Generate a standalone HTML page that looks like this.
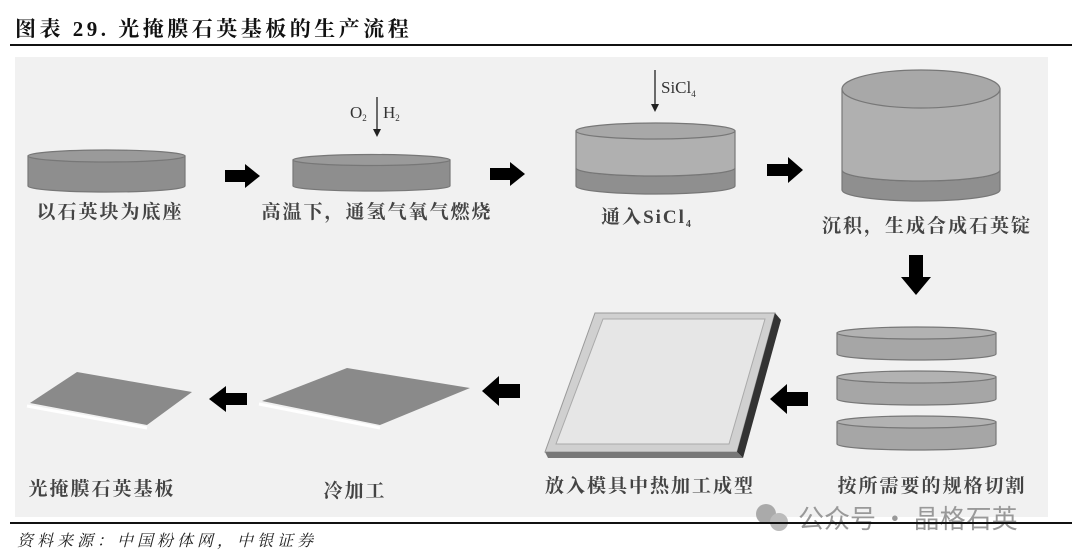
<!DOCTYPE html>
<html><head><meta charset="utf-8"><style>
body{margin:0;background:#fff;width:1080px;height:559px;overflow:hidden}
svg{display:block}
</style></head><body>
<svg width="1080" height="559" viewBox="0 0 1080 559" xmlns="http://www.w3.org/2000/svg" font-family="Liberation Serif, Noto Serif CJK SC, serif">
<text x="15" y="36" font-size="21" font-weight="bold" fill="#111" letter-spacing="3.5">图表 29. 光掩膜石英基板的生产流程</text>
<rect x="10" y="44" width="1062" height="2" fill="#111"/>
<rect x="15" y="57" width="1033" height="460" fill="#f1f1f1"/>
<defs>
<marker id="ah" markerWidth="8" markerHeight="8" refX="4" refY="4" orient="auto" markerUnits="userSpaceOnUse"><path d="M0,0 L8,4 L0,8z" fill="#222"/></marker>
</defs>
<g stroke="#777" stroke-width="1.2">
<path d="M28,156 L28,186 A78,6 0 0 0 185,186 L185,156z" fill="#8e8e8e"/>
<ellipse cx="106.5" cy="156" rx="78.5" ry="6" fill="#9a9a9a"/>
<path d="M293,160 L293,186 A78,5 0 0 0 450,186 L450,160z" fill="#8e8e8e"/>
<ellipse cx="371.5" cy="160" rx="78.5" ry="5.5" fill="#9a9a9a"/>
<path d="M576,168 L576,186 A79.5,8 0 0 0 735,186 L735,168 A79.5,8 0 0 1 576,168z" fill="#8f8f8f"/>
<path d="M576,131 L576,168 A79.5,8 0 0 0 735,168 L735,131z" fill="#b0b0b0"/>
<ellipse cx="655.5" cy="131" rx="79.5" ry="8" fill="#a8a8a8"/>
<path d="M842,170 L842,190 A79,11 0 0 0 1000,190 L1000,170 A79,11 0 0 1 842,170z" fill="#8f8f8f"/>
<path d="M842,89 L842,170 A79,11 0 0 0 1000,170 L1000,89z" fill="#b0b0b0"/>
<ellipse cx="921" cy="89" rx="79" ry="19" fill="#a8a8a8"/>
<path d="M837,333 L837,354 A79.5,6 0 0 0 996,354 L996,333z" fill="#a6a6a6"/>
<ellipse cx="916.5" cy="333" rx="79.5" ry="6" fill="#b2b2b2"/>
<path d="M837,377 L837,399 A79.5,6 0 0 0 996,399 L996,377z" fill="#a6a6a6"/>
<ellipse cx="916.5" cy="377" rx="79.5" ry="6" fill="#b2b2b2"/>
<path d="M837,422 L837,444 A79.5,6 0 0 0 996,444 L996,422z" fill="#a6a6a6"/>
<ellipse cx="916.5" cy="422" rx="79.5" ry="6" fill="#b2b2b2"/>
</g>
<polygon points="595,313 775,313 737,452 545,452" fill="#d0d0d0" stroke="#999"/>
<polygon points="775,313 781,320 743,458 737,452" fill="#333"/>
<polygon points="545,452 737,452 743,458 548,458" fill="#777"/>
<polygon points="603,319 765,319 729,444 556,444" fill="#e6e6e6" stroke="#aaa"/>
<polygon points="77,372 192,392 147,425 30,403" fill="#8a8a8a"/>
<polyline points="27,406 147,428" stroke="#fff" stroke-width="3" fill="none"/>
<polygon points="347,368 470,388 380,425 262,401" fill="#8a8a8a"/>
<polyline points="259,404 380,428" stroke="#fff" stroke-width="3" fill="none"/>
<g fill="#000">
<path d="M225,170 h20 v-6 l15,12 l-15,12 v-6 h-20z"/>
<path d="M490,168 h20 v-6 l15,12 l-15,12 v-6 h-20z"/>
<path d="M767,164 h21 v-7 l15,13 l-15,13 v-7 h-21z"/>
<path d="M909,255 h14 v22 h8 l-15,18 l-15,-18 h8z"/>
<path d="M808,392 h-21 v-8 l-17,15 l17,15 v-8 h21z"/>
<path d="M520,384 h-21 v-8 l-17,15 l17,15 v-8 h21z"/>
<path d="M247,393 h-21 v-7 l-17,13 l17,13 v-7 h21z"/>
</g>
<line x1="377" y1="97" x2="377" y2="133" stroke="#222" stroke-width="1.3" marker-end="url(#ah)"/>
<line x1="655" y1="70" x2="655" y2="108" stroke="#222" stroke-width="1.3" marker-end="url(#ah)"/>
<g fill="#333" font-size="17">
<text x="350" y="118">O<tspan font-size="9" dy="3">2</tspan></text>
<text x="383" y="118">H<tspan font-size="9" dy="3">2</tspan></text>
<text x="661" y="93">SiCl<tspan font-size="9" dy="4">4</tspan></text>
</g>
<g fill="#444" font-size="19" font-weight="bold" text-anchor="middle" letter-spacing="2" font-family="Liberation Serif, Noto Serif CJK SC, serif">
<text x="110" y="218">以石英块为底座</text>
<text x="377" y="218">高温下，通氢气氧气燃烧</text>
<text x="647" y="223">通入SiCl<tspan font-size="10" dy="4">4</tspan></text>
<text x="927" y="232">沉积，生成合成石英锭</text>
<text x="932" y="492">按所需要的规格切割</text>
<text x="650" y="492">放入模具中热加工成型</text>
<text x="355" y="497">冷加工</text>
<text x="102" y="495">光掩膜石英基板</text>
</g>
<text x="798" y="528" font-size="26" fill="#999" font-family="Noto Sans CJK SC, sans-serif">公众号 · 晶格石英</text>
<circle cx="766" cy="514" r="10" fill="#aaa"/><circle cx="779" cy="522" r="9" fill="#bbb"/>
<rect x="10" y="522" width="1062" height="2" fill="#111"/>
<text x="17" y="546" font-size="16" font-style="italic" fill="#222" letter-spacing="4" font-family="Liberation Serif, Noto Serif CJK SC, serif">资料来源：中国粉体网，中银证券</text>
</svg>
</body></html>
